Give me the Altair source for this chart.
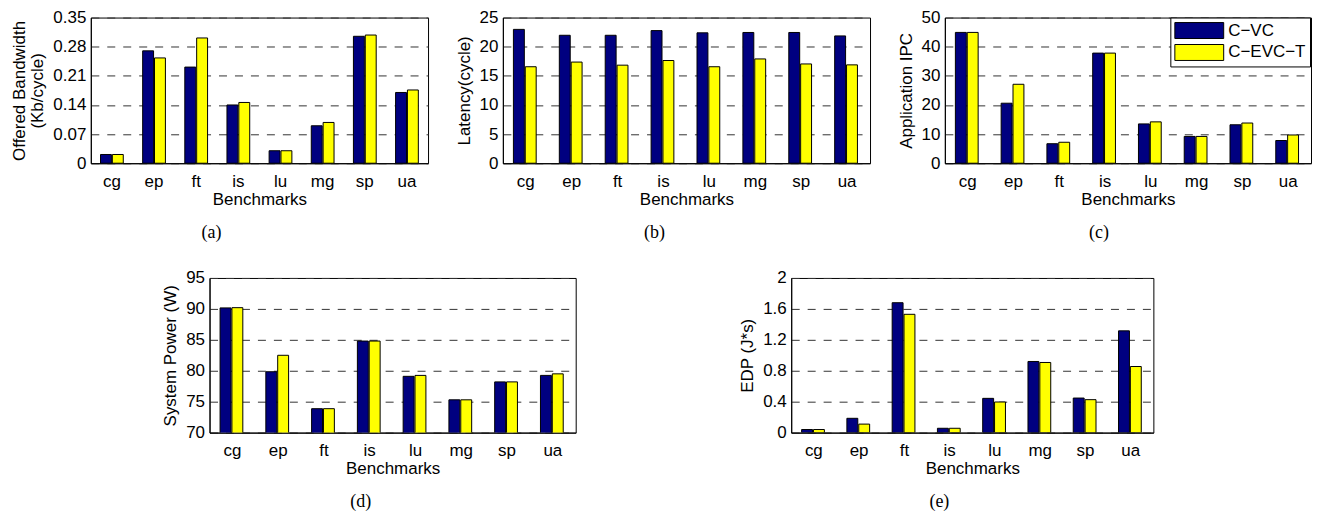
import altair as alt
import pandas as pd

benchmarks = ["cg", "ep", "ft", "is", "lu", "mg", "sp", "ua"]
series = ["C\u2212VC", "C\u2212EVC\u2212T"]
colors = ["#000080", "#FFFF00"]

bw_cvc = [0.021, 0.270, 0.231, 0.140, 0.030, 0.090, 0.305, 0.170]
bw_evct = [0.021, 0.253, 0.301, 0.146, 0.030, 0.098, 0.308, 0.176]
lat_cvc = [22.97, 21.96, 21.96, 22.76, 22.38, 22.44, 22.44, 21.85]
lat_evct = [16.56, 17.36, 16.83, 17.63, 16.56, 17.90, 17.04, 16.88]
ipc_cvc = [44.9, 20.6, 6.7, 37.8, 13.5, 9.2, 13.2, 7.8]
ipc_evct = [44.9, 27.1, 7.2, 37.8, 14.2, 9.2, 13.8, 9.7]
pow_cvc = [90.16, 79.84, 73.87, 84.80, 79.10, 75.30, 78.20, 79.25]
pow_evct = [90.20, 82.50, 73.87, 84.80, 79.25, 75.30, 78.20, 79.50]
edp_cvc = [0.040, 0.185, 1.680, 0.056, 0.443, 0.920, 0.447, 1.316]
edp_evct = [0.040, 0.110, 1.530, 0.056, 0.396, 0.907, 0.426, 0.855]

ticks_bw = [0, 0.07, 0.14, 0.21, 0.28, 0.35]
ticks_lat = [0, 5, 10, 15, 20, 25]
ticks_ipc = [0, 10, 20, 30, 40, 50]
ticks_pow = [70, 75, 80, 85, 90, 95]
ticks_edp = [0, 0.4, 0.8, 1.2, 1.6, 2]

SANS = "Liberation Sans"
SERIF = "Liberation Serif"


def panel(va, vb, ytitle, ticks, width, height, caption, cap_dx, legend=False):
    df = pd.DataFrame({
        "bench": benchmarks * 2,
        "series": [series[0]] * len(benchmarks) + [series[1]] * len(benchmarks),
        "value": va + vb,
    })
    if legend:
        leg = alt.Legend(
            title=None, orient="none", legendX=226, legendY=0,
            symbolType="M-2.88,-0.94L2.88,-0.94L2.88,0.94L-2.88,0.94Z", symbolSize=289,
            symbolOffset=16, labelOffset=20,
            symbolStrokeColor="black", symbolStrokeWidth=1, symbolOpacity=1,
            labelFont=SANS, labelFontSize=17, labelColor="black",
            strokeColor="black", fillColor="white", padding=4, rowPadding=2,
        )
    else:
        leg = None
    return alt.Chart(df).mark_bar(stroke="black", strokeWidth=1, clip=True).encode(
        x=alt.X("bench:N", sort=benchmarks,
                scale=alt.Scale(paddingInner=0.46, paddingOuter=0.23),
                axis=alt.Axis(title="Benchmarks", labelAngle=0, ticks=False,
                              labelPadding=10, titlePadding=2, grid=False)),
        xOffset=alt.XOffset("series:N", sort=series,
                            scale=alt.Scale(paddingInner=0.08)),
        y=alt.Y("value:Q",
                scale=alt.Scale(domain=[ticks[0], ticks[-1]], zero=False, nice=False),
                axis=alt.Axis(title=ytitle, values=ticks, format="~r", ticks=False,
                              labelPadding=5, titlePadding=6, grid=True,
                              gridDash=[8, 8], gridColor="#333333", gridWidth=1,
                              titleLineHeight=18)),
        color=alt.Color("series:N", scale=alt.Scale(domain=series, range=colors),
                        legend=leg),
    ).properties(
        width=width, height=height,
        title=alt.TitleParams(caption, orient="bottom", anchor="middle", font=SERIF,
                              fontSize=18, fontWeight="normal", color="black",
                              offset=17, dx=cap_dx),
    )


def spacer(width, height):
    df = pd.DataFrame({"v": [0]})
    return alt.Chart(df).mark_point(opacity=0).encode(
        x=alt.X("v:Q", axis=None), y=alt.Y("v:Q", axis=None)
    ).properties(width=width, height=height,
                 view=alt.ViewBackground(stroke="transparent", strokeWidth=0))


TOP_H = 146
BOT_H = 155

pa = panel(bw_cvc, bw_evct, ["Offered Bandwidth", "(Kb/cycle)"], ticks_bw, 338, TOP_H, "(a)", -48)
pb = panel(lat_cvc, lat_evct, "Latency(cycle)", ticks_lat, 368, TOP_H, "(b)", -32)
pc = panel(ipc_cvc, ipc_evct, "Application IPC", ticks_ipc, 367, TOP_H, "(c)", -29, legend=True)
pd_ = panel(pow_cvc, pow_evct, "System Power (W)", ticks_pow, 367, BOT_H, "(d)", -32)
pe = panel(edp_cvc, edp_evct, "EDP (J*s)", ticks_edp, 363, BOT_H, "(e)", -33)

top = alt.hconcat(pa, pb, pc, spacing=75, bounds="flush").resolve_scale(color="independent")
bottom = alt.hconcat(spacer(119, BOT_H), pd_, spacer(216, BOT_H), pe, spacing=0,
                     bounds="flush").resolve_scale(color="independent")

chart = alt.vconcat(top, bottom, spacing=261, bounds="flush").resolve_scale(
    color="independent"
).properties(
    padding={"left": 2, "top": -1, "right": 5, "bottom": 5}
).configure_view(
    stroke="black", strokeWidth=1
).configure_axis(
    labelFont=SANS, labelFontSize=17, labelColor="black",
    titleFont=SANS, titleFontSize=17, titleColor="black", titleFontWeight="normal",
    domainColor="black", domainWidth=1,
)

chart.save("out.html", embed_options={"renderer": "svg", "actions": False})
